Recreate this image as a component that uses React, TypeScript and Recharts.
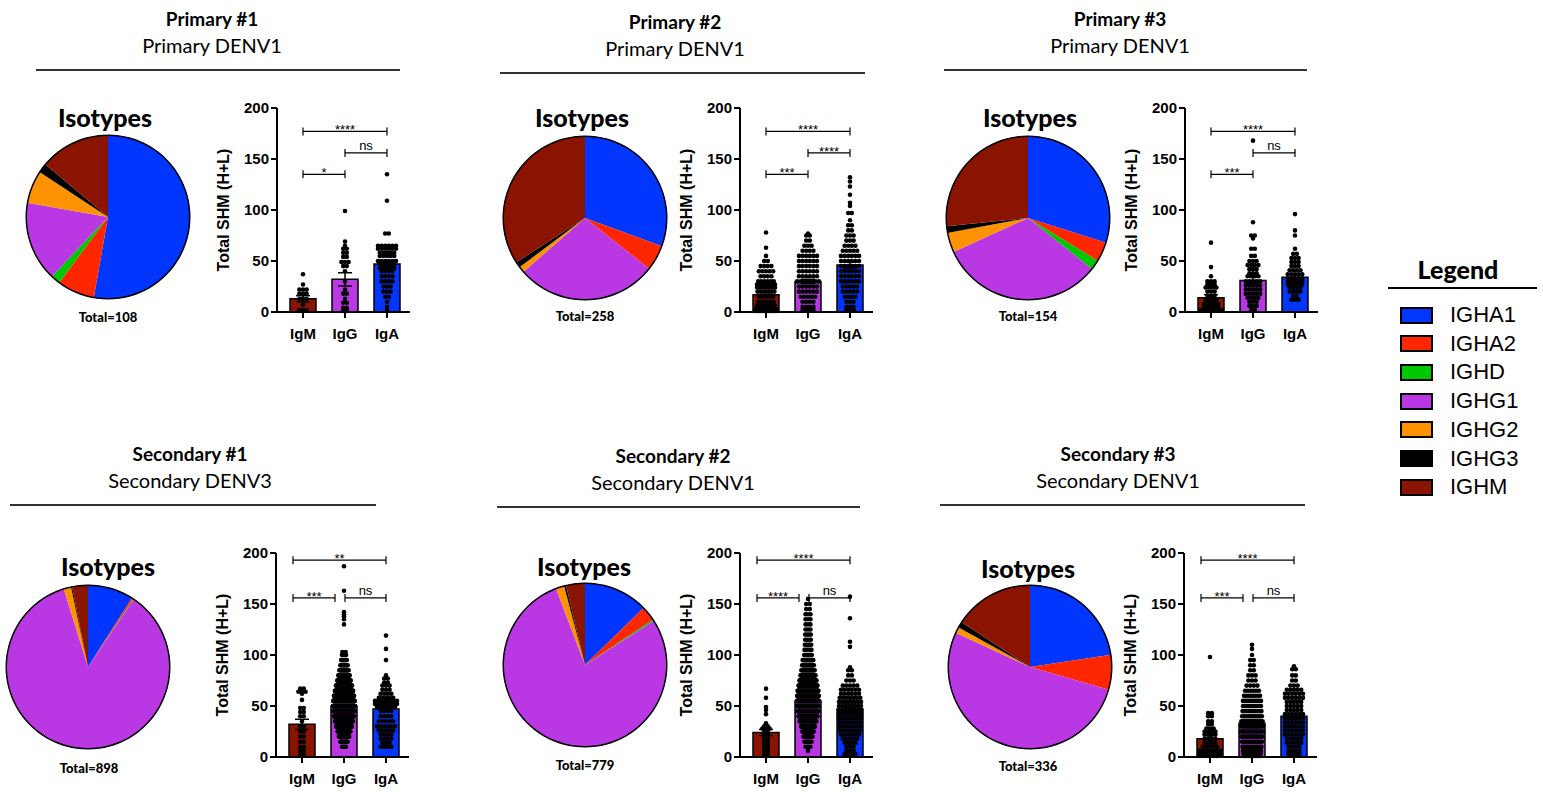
import React from "react";
import {
  Bar,
  Cell,
  ComposedChart,
  ErrorBar,
  Pie,
  PieChart,
  ReferenceLine,
  Scatter,
  XAxis,
  YAxis,
} from "recharts";

const FONT_T = "Lato, 'Open Sans', sans-serif";
const FONT_A = "'Liberation Sans', Arial, sans-serif";

// isotypes, clockwise from 12 o'clock
const isotypes = ["IGHA1", "IGHA2", "IGHD", "IGHG1", "IGHG2", "IGHG3", "IGHM"];
const isoColors = ["#0036ff", "#ff2600", "#00c800", "#ba38e4", "#ff9200", "#000000", "#8b1400"];

const classes = ["IgM", "IgG", "IgA"];
const classColors = ["#8b1400", "#ba38e4", "#0036ff"];

// isotype counts per donor
const p1Counts = [57, 8, 2, 17, 7, 2, 15];
const p2Counts = [79, 13, 0, 72, 3, 3, 88];
const p3Counts = [46, 6, 3, 50, 6, 2, 41];
const s1Counts = [81, 3, 1, 770, 13, 2, 28];
const s2Counts = [99, 23, 2, 610, 13, 3, 29];
const s3Counts = [76, 23, 0, 176, 4, 4, 53];

// bar height (mean) and SEM for IgM, IgG, IgA
const p1Means = [13, 32, 47];
const p1Sem = [3, 6.5, 2];
const p2Means = [17, 30, 46];
const p2Sem = [2, 2, 3];
const p3Means = [14, 31, 34];
const p3Sem = [3, 3.5, 3.5];
const s1Means = [32, 50, 47];
const s1Sem = [5, 1, 2];
const s2Means = [24, 55, 47];
const s2Sem = [3, 1, 2.5];
const s3Means = [18, 33, 40];
const s3Sem = [3, 2, 2.5];

// total SHM per clone, as [value, number of clones]
const p1IgM = [[37, 1], [27, 1], [22, 3], [18, 3], [13, 3], [7, 1], [2, 3]];
const p1IgG = [[99, 1], [69, 1], [65, 1], [62, 2], [58, 2], [54, 2], [49, 3], [45, 2], [40, 1], [30, 1], [22, 1], [18, 2], [13, 1], [9, 2], [4, 2], [1, 2]];
const p1IgA = [[135, 1], [109, 1], [77, 2], [65, 6], [62, 6], [58, 5], [55, 5], [50, 6], [47, 5], [43, 5], [40, 4], [35, 4], [30, 4], [25, 3], [20, 3], [15, 2], [10, 1], [5, 1], [2, 1]];

const p2IgM = [[78, 1], [63, 1], [55, 1], [50, 2], [45, 4], [40, 5], [35, 4], [30, 6], [27, 8], [24, 8], [20, 7], [15, 5], [10, 6], [6, 8], [3, 10], [1, 12]];
const p2IgG = [[77, 1], [75, 2], [70, 2], [65, 3], [60, 4], [55, 6], [50, 6], [45, 6], [40, 6], [35, 6], [30, 7], [25, 6], [20, 6], [15, 5], [10, 4], [5, 4], [2, 4]];
const p2IgA = [[132, 1], [128, 1], [123, 1], [115, 1], [107, 1], [104, 1], [97, 2], [90, 1], [85, 2], [80, 2], [75, 3], [70, 3], [65, 4], [60, 5], [55, 6], [50, 6], [45, 6], [40, 6], [35, 6], [30, 6], [25, 5], [20, 5], [15, 4], [10, 3], [5, 3], [2, 3]];

const p3IgM = [[68, 1], [44, 1], [35, 1], [30, 3], [27, 3], [24, 4], [20, 3], [16, 3], [12, 4], [8, 5], [5, 5], [2, 8]];
const p3IgG = [[168, 1], [88, 1], [75, 2], [72, 1], [62, 2], [55, 2], [50, 3], [46, 4], [42, 3], [38, 3], [35, 4], [30, 5], [26, 5], [22, 5], [18, 5], [14, 4], [10, 3], [6, 3], [2, 2]];
const p3IgA = [[96, 1], [80, 1], [75, 1], [62, 1], [57, 2], [53, 3], [49, 3], [45, 3], [41, 4], [37, 5], [33, 5], [30, 5], [27, 5], [24, 4], [20, 4], [16, 2], [12, 3]];

const s1IgM = [[67, 2], [64, 3], [62, 1], [56, 1], [48, 2], [44, 2], [40, 2], [35, 1], [30, 2], [25, 2], [20, 2], [15, 2], [10, 2], [6, 2], [2, 2]];
const s1IgG = [[187, 1], [163, 1], [142, 1], [140, 1], [138, 1], [135, 1], [130, 1], [103, 2], [100, 3], [95, 6], [90, 10], [85, 16], [80, 24], [75, 34], [70, 48], [65, 62], [60, 75], [55, 85], [50, 90], [45, 82], [40, 73], [35, 60], [30, 45], [25, 30], [20, 20], [15, 10], [10, 3]];
const s1IgA = [[119, 1], [106, 1], [95, 1], [80, 1], [77, 2], [73, 2], [70, 3], [66, 3], [62, 4], [58, 5], [55, 8], [52, 8], [49, 6], [45, 4], [40, 4], [35, 5], [30, 6], [26, 5], [22, 4], [18, 4], [14, 3], [10, 4]];

const s2IgM = [[67, 1], [58, 1], [49, 1], [46, 1], [42, 1], [33, 1], [30, 2], [28, 3], [26, 2], [22, 2], [18, 2], [15, 2], [12, 2], [9, 2], [6, 2], [3, 2], [1, 2]];
const s2IgG = [[155, 1], [150, 2], [145, 2], [140, 3], [135, 3], [130, 3], [125, 3], [120, 4], [115, 4], [110, 5], [105, 6], [100, 7], [95, 14], [90, 17], [85, 22], [80, 28], [75, 36], [70, 44], [65, 54], [60, 58], [55, 60], [50, 58], [45, 54], [40, 44], [35, 34], [30, 24], [25, 16], [20, 10], [15, 6], [10, 3], [6, 1]];
const s2IgA = [[157, 1], [136, 1], [113, 1], [108, 1], [88, 1], [85, 2], [80, 2], [75, 3], [70, 5], [66, 6], [62, 6], [58, 7], [54, 8], [50, 8], [46, 8], [42, 8], [38, 8], [34, 7], [30, 7], [26, 7], [22, 6], [18, 5], [14, 4], [10, 3], [6, 3], [3, 4]];

const s3IgM = [[98, 1], [43, 2], [40, 2], [35, 2], [32, 2], [28, 3], [25, 4], [22, 4], [18, 4], [14, 4], [10, 5], [6, 7], [3, 8], [1, 5]];
const s3IgG = [[110, 1], [106, 1], [100, 1], [95, 2], [90, 2], [85, 2], [80, 3], [75, 3], [70, 4], [65, 6], [60, 8], [55, 10], [50, 10], [45, 11], [40, 12], [35, 14], [30, 15], [25, 15], [20, 14], [15, 12], [10, 11], [6, 10], [3, 9], [1, 8]];
const s3IgA = [[89, 1], [86, 2], [80, 2], [75, 2], [70, 3], [66, 5], [62, 6], [58, 6], [54, 5], [50, 5], [46, 5], [42, 6], [38, 6], [34, 6], [30, 6], [26, 6], [22, 6], [18, 5], [14, 5], [10, 4], [6, 4], [3, 4]];

// significance labels: top, then the two short brackets
const p1Sig = ["****", "ns", "*"];
const p2Sig = ["****", "****", "***"];
const p3Sig = ["****", "ns", "***"];
const s1Sig = ["**", "***", "ns"];
const s2Sig = ["****", "****", "ns"];
const s3Sig = ["****", "***", "ns"];

const primaryBrackets = (s: string[]) => [
  { a: "IgM", b: "IgA", y: 177, d1: 0, d2: 0, t: s[0] },
  { a: "IgG", b: "IgA", y: 156, d1: 0, d2: 0, t: s[1] },
  { a: "IgM", b: "IgG", y: 135, d1: 0, d2: 0, t: s[2] },
];
const secondaryBrackets = (s: string[]) => [
  { a: "IgM", b: "IgA", y: 193, d1: -9, d2: 0, t: s[0] },
  { a: "IgM", b: "IgG", y: 156, d1: -9, d2: -9, t: s[1] },
  { a: "IgG", b: "IgA", y: 156, d1: 1, d2: 0, t: s[2] },
];

const panels = [
  { title: "Primary #1", sub: "Primary DENV1", tx: 212, ty: 18, sy: 45, line: [36, 400, 70], pie: [108, 217], iso: [105, 117], tot: [108, 317], x0: 277, y200: 108, counts: p1Counts, means: p1Means, sem: p1Sem, dots: [p1IgM, p1IgG, p1IgA], br: primaryBrackets(p1Sig) },
  { title: "Primary #2", sub: "Primary DENV1", tx: 675, ty: 21, sy: 48, line: [500, 865, 73], pie: [585, 218], iso: [582, 117], tot: [585, 316], x0: 740, y200: 108, counts: p2Counts, means: p2Means, sem: p2Sem, dots: [p2IgM, p2IgG, p2IgA], br: primaryBrackets(p2Sig) },
  { title: "Primary #3", sub: "Primary DENV1", tx: 1120, ty: 18, sy: 45, line: [944, 1307, 70], pie: [1028, 218], iso: [1030, 117], tot: [1028, 316], x0: 1185, y200: 108, counts: p3Counts, means: p3Means, sem: p3Sem, dots: [p3IgM, p3IgG, p3IgA], br: primaryBrackets(p3Sig) },
  { title: "Secondary #1", sub: "Secondary DENV3", tx: 190, ty: 453, sy: 480, line: [10, 376, 505], pie: [88, 667], iso: [108, 566], tot: [89, 768], x0: 276, y200: 553, counts: s1Counts, means: s1Means, sem: s1Sem, dots: [s1IgM, s1IgG, s1IgA], br: secondaryBrackets(s1Sig) },
  { title: "Secondary #2", sub: "Secondary DENV1", tx: 673, ty: 455, sy: 482, line: [497, 860, 507], pie: [585, 665], iso: [584, 566], tot: [585, 765], x0: 740, y200: 553, counts: s2Counts, means: s2Means, sem: s2Sem, dots: [s2IgM, s2IgG, s2IgA], br: secondaryBrackets(s2Sig) },
  { title: "Secondary #3", sub: "Secondary DENV1", tx: 1118, ty: 453, sy: 480, line: [940, 1305, 505], pie: [1030, 667], iso: [1028, 568], tot: [1028, 766], x0: 1184, y200: 553, counts: s3Counts, means: s3Means, sem: s3Sem, dots: [s3IgM, s3IgG, s3IgA], br: secondaryBrackets(s3Sig) },
];

// place clones of one value side by side, wider where the column is dense
const spread = (name: string, bins: number[][]) => {
  const nmax = Math.max(...bins.map((b) => b[1]));
  const pts: { name: string; v: number; dx: number }[] = [];
  bins.forEach(([v, n]) => {
    const w = Math.min((n - 1) * 3.6, 22 * Math.sqrt(n / nmax));
    for (let k = 0; k < n; k++) {
      pts.push({ name, v, dx: n === 1 ? 0 : -w / 2 + (k * w) / (n - 1) });
    }
  });
  return pts;
};

const Dot = (p: any) => (
  <circle cx={p.cx + (p.payload?.dx ?? 0)} cy={p.cy} r={2.3} fill="#000" />
);

const bracketShape = (t: string, d1: number, d2: number) => (p: any) => {
  const x1 = p.x1 + d1;
  const x2 = p.x2 + d2;
  const y = p.y1;
  const star = t !== "ns";
  return (
    <g>
      <line x1={x1} x2={x2} y1={y} y2={y} stroke="#000" strokeWidth={1.2} />
      <line x1={x1} x2={x1} y1={y - 4} y2={y + 4} stroke="#000" strokeWidth={1.2} />
      <line x1={x2} x2={x2} y1={y - 4} y2={y + 4} stroke="#000" strokeWidth={1.2} />
      <text x={(x1 + x2) / 2} y={star ? y + 3 : y - 3} textAnchor="middle" fontSize={13} fontFamily={FONT_A} fill="#000">
        {t}
      </text>
    </g>
  );
};

const axisStroke = { stroke: "#000", strokeWidth: 2 };

const ShmChart = ({ p }: { p: any }) => {
  const rows = classes.map((c, i) => ({ name: c, mean: p.means[i], sem: p.sem[i] }));
  const pts = p.dots.flatMap((bins: number[][], i: number) => spread(classes[i], bins));
  return (
    <div style={{ position: "absolute", left: p.x0 - 70, top: p.y200 - 15 }}>
      <ComposedChart width={207} height={254} data={rows} margin={{ top: 15, right: 4, bottom: 0, left: 0 }}>
        <XAxis
          dataKey="name"
          type="category"
          allowDuplicatedCategory={false}
          padding={{ left: 5, right: 2 }}
          height={35}
          axisLine={axisStroke}
          tickLine={axisStroke}
          tickSize={6}
          tickMargin={10}
          tick={{ fill: "#000", fontSize: 15, fontWeight: 700, fontFamily: FONT_A }}
        />
        <YAxis
          domain={[0, 200]}
          ticks={[0, 50, 100, 150, 200]}
          interval={0}
          width={70}
          axisLine={axisStroke}
          tickLine={axisStroke}
          tickSize={6}
          tick={{ fill: "#000", fontSize: 15, fontWeight: 700, fontFamily: FONT_A }}
        />
        {p.br.map((b: any, i: number) => (
          <ReferenceLine
            key={i}
            segment={[{ x: b.a, y: b.y }, { x: b.b, y: b.y }]}
            shape={bracketShape(b.t, b.d1, b.d2)}
          />
        ))}
        <Bar dataKey="mean" barSize={26} stroke="#000" strokeWidth={1.5} isAnimationActive={false}>
          {rows.map((r, i) => (
            <Cell key={r.name} fill={classColors[i]} />
          ))}
          <ErrorBar dataKey="sem" width={7} stroke="#000" strokeWidth={1.5} direction="y" />
        </Bar>
        <Scatter data={pts} dataKey="v" shape={Dot} isAnimationActive={false} />
      </ComposedChart>
    </div>
  );
};

const IsoPie = ({ p }: { p: any }) => {
  const slices = isotypes.map((n, i) => ({ name: n, value: p.counts[i] }));
  return (
    <div style={{ position: "absolute", left: p.pie[0] - 90, top: p.pie[1] - 90 }}>
      <PieChart width={180} height={180} margin={{ top: 0, right: 0, bottom: 0, left: 0 }}>
        <Pie data={slices} dataKey="value" cx={90} cy={90} outerRadius={82} startAngle={90} endAngle={-270} stroke="none" isAnimationActive={false}>
          {slices.map((s, i) => (
            <Cell key={s.name} fill={isoColors[i]} />
          ))}
        </Pie>
        <Pie data={[{ value: 1 }]} dataKey="value" cx={90} cy={90} innerRadius={81} outerRadius={82.5} fill="#000" stroke="none" isAnimationActive={false} />
      </PieChart>
    </div>
  );
};

const centered = (x: number, y: number, extra: React.CSSProperties): React.CSSProperties => ({
  position: "absolute",
  left: x,
  top: y,
  transform: "translate(-50%, -50%)",
  whiteSpace: "nowrap",
  lineHeight: 1,
  color: "#000",
  ...extra,
});

const Panel = ({ p }: { p: any }) => {
  const total = p.counts.reduce((a: number, b: number) => a + b, 0);
  return (
    <>
      <div style={centered(p.tx, p.ty, { fontFamily: FONT_T, fontWeight: 700, fontSize: 19 })}>{p.title}</div>
      <div style={centered(p.tx, p.sy, { fontFamily: FONT_T, fontSize: 20 })}>{p.sub}</div>
      <div style={{ position: "absolute", left: p.line[0], top: p.line[2] - 1, width: p.line[1] - p.line[0], height: 1.5, background: "#333" }} />
      <div style={centered(p.iso[0], p.iso[1], { fontFamily: FONT_T, fontWeight: 900, fontSize: 25 })}>Isotypes</div>
      <IsoPie p={p} />
      <div style={centered(p.tot[0], p.tot[1], { fontFamily: FONT_T, fontWeight: 900, fontSize: 13 })}>Total={total}</div>
      <div
        style={{
          ...centered(p.x0 - 53, p.y200 + 102, { fontFamily: FONT_A, fontWeight: 700, fontSize: 16 }),
          transform: "translate(-50%, -50%) rotate(-90deg)",
        }}
      >
        Total SHM (H+L)
      </div>
      <ShmChart p={p} />
    </>
  );
};

const App = () => (
  <div style={{ position: "absolute", left: 0, top: 0, width: 1543, height: 792, background: "#fff", overflow: "hidden" }}>
    {panels.map((p) => (
      <Panel key={p.title} p={p} />
    ))}
    <div style={centered(1458, 269, { fontFamily: FONT_T, fontWeight: 900, fontSize: 25 })}>Legend</div>
    <div style={{ position: "absolute", left: 1388, top: 287, width: 149, height: 2, background: "#000" }} />
    {isotypes.map((n, i) => (
      <div key={n} style={{ position: "absolute", left: 1400, top: 306 + i * 28.7, display: "flex", alignItems: "center", height: 18 }}>
        <div style={{ width: 29, height: 13, background: isoColors[i], border: "2px solid #000" }} />
        <div style={{ marginLeft: 17, fontFamily: FONT_A, fontSize: 22, lineHeight: 1, color: "#000" }}>{n}</div>
      </div>
    ))}
  </div>
);

export default App;
